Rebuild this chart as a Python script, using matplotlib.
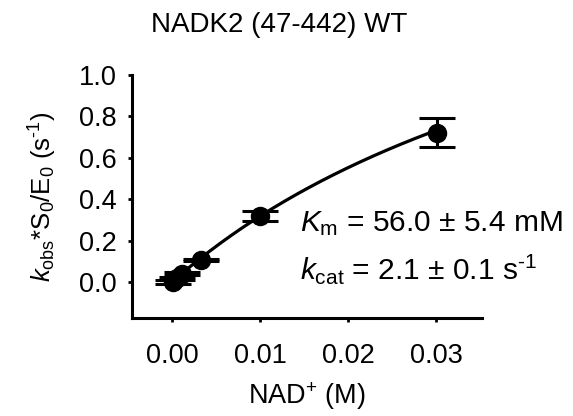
import numpy as np
import matplotlib
matplotlib.use("Agg")
import matplotlib.pyplot as plt

plt.rcParams['font.family'] = ['Liberation Sans', 'DejaVu Sans']
plt.rcParams['mathtext.fontset'] = 'custom'
plt.rcParams['mathtext.rm'] = 'Liberation Sans'
plt.rcParams['mathtext.it'] = 'Liberation Sans:italic'
plt.rcParams['mathtext.bf'] = 'Liberation Sans:bold'

# Data
nad_conc = [0.0001, 0.0006, 0.0011, 0.0033, 0.0100, 0.0301]   # M
rate = [0.000, 0.018, 0.040, 0.106, 0.319, 0.722]               # s^-1
rate_err = [0.008, 0.008, 0.008, 0.005, 0.024, 0.070]
Km = 0.056     # M (56.0 mM)
kcat = 2.1     # s^-1
x_ticks = [0.00, 0.01, 0.02, 0.03]
y_ticks = [0.0, 0.2, 0.4, 0.6, 0.8, 1.0]

fig = plt.figure(figsize=(5.73, 4.16), dpi=100)
ax = fig.add_axes([132/573, 1-318/416, (482-132)/573, (318-75)/416])

xfit = np.linspace(0, max(nad_conc), 200)
ax.plot(xfit, kcat*xfit/(Km+xfit), color='black', lw=2.3, zorder=2)

ax.errorbar(nad_conc, rate, yerr=rate_err, fmt='o', color='black', ms=13,
            ecolor='black', elinewidth=2.2, capsize=13, capthick=2.2, zorder=3)

ax.set_xlim(-0.00455, 0.0352)
ax.set_ylim(-0.174, 1.0)
ax.set_xticks(x_ticks)
ax.set_xticklabels([f"{v:.2f}" for v in x_ticks])
ax.set_yticks(y_ticks)
ax.set_yticklabels([f"{v:.1f}" for v in y_ticks])
for s in ['top', 'right']:
    ax.spines[s].set_visible(False)
for s in ['left', 'bottom']:
    ax.spines[s].set_linewidth(2.2)
ax.tick_params(axis='both', labelsize=19.5, width=2, length=3, direction='out')
ax.tick_params(axis='x', pad=15)
ax.tick_params(axis='y', pad=8)

ax.set_xlabel(r'NAD$^{+}$ (M)', fontsize=19.5, labelpad=8)
ax.set_ylabel(r'$k_{\mathrm{obs}}$*S$_0$/E$_0$ (s$^{\text{-1}}$)', fontsize=18.5, labelpad=14)
fig.text(279/573, 1-25/416, 'NADK2 (47-442) WT', ha='center', va='center', fontsize=20)

ax.text(0.0145, 0.28, r'$K_{\mathrm{m}}$ = 56.0 $\pm$ 5.4 mM', fontsize=21.5, ha='left', va='center')
ax.text(0.0145, 0.065, r'$k_{\mathrm{cat}}$ = 2.1 $\pm$ 0.1 s$^{\text{-1}}$', fontsize=21.5, ha='left', va='center')

fig.savefig('out.png', dpi=100)
